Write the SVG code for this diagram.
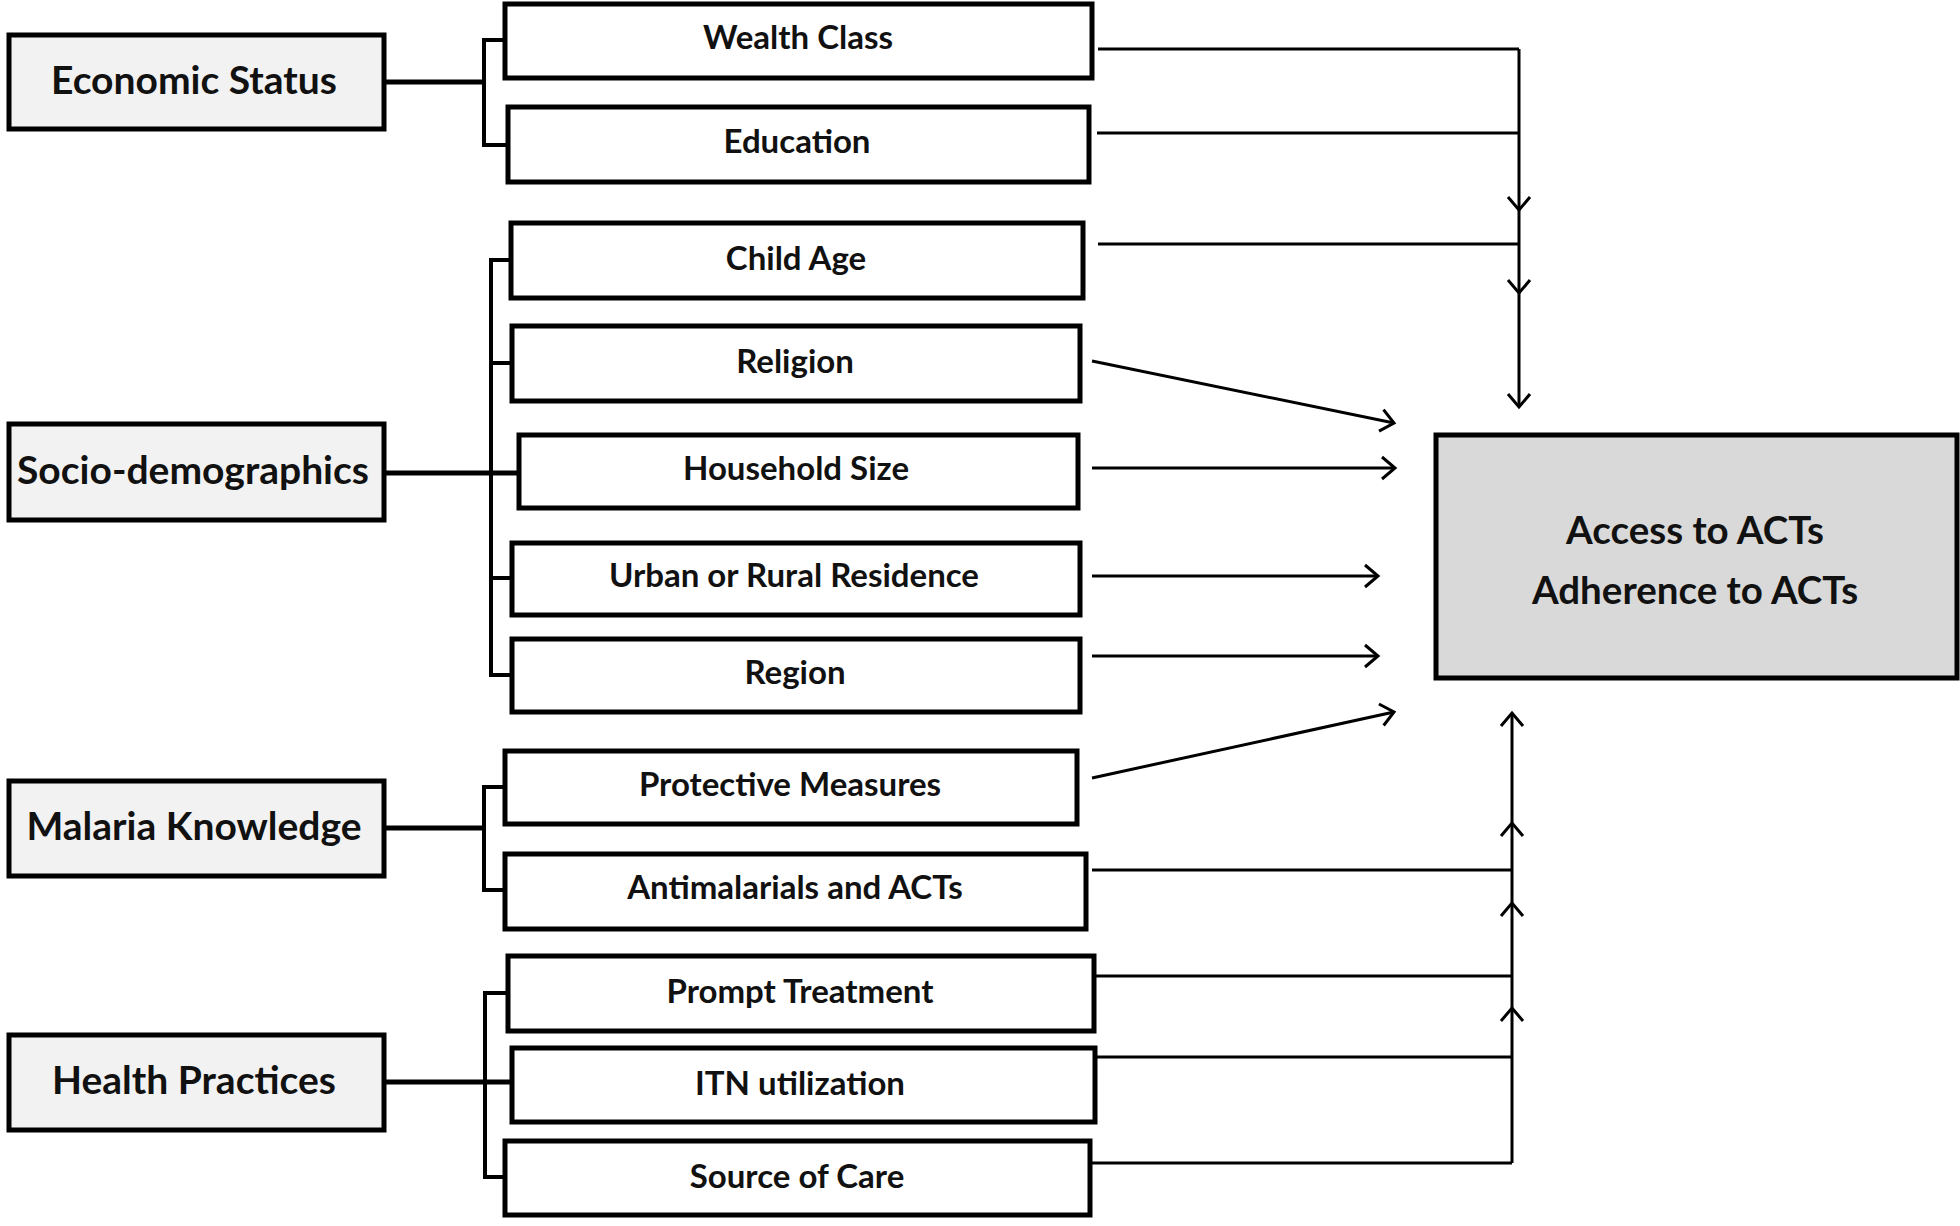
<svg xmlns="http://www.w3.org/2000/svg" width="1960" height="1226" viewBox="0 0 1960 1226">
<style>
  .cat rect { fill: #f2f2f2; stroke: #000; stroke-width: 5; }
  .sub rect { fill: #ffffff; stroke: #000; stroke-width: 5; }
  .out rect { fill: #d9d9d9; stroke: #000; stroke-width: 5; }
  text { font-family: Lato, "Open Sans", "Liberation Sans", sans-serif; font-weight: bold; fill: #111; text-anchor: middle; }
  .cat text { font-size: 39px; }
  .sub text { font-size: 33px; }
  .out text { font-size: 38.5px; }
  .br { fill: none; stroke: #000; stroke-width: 4; }
  .main { fill: none; stroke: #000; stroke-width: 5; }
  .ln { fill: none; stroke: #000; stroke-width: 3; }
  .ar { fill: none; stroke: #000; stroke-width: 3; marker-end: url(#arr); }
</style>
<defs>
  <marker id="arr" viewBox="0 0 18 28" refX="15" refY="14" markerWidth="18" markerHeight="28" markerUnits="userSpaceOnUse" orient="auto">
    <path d="M2,3 L15,14 L2,25" fill="none" stroke="#000" stroke-width="3"/>
  </marker>
</defs>
<rect width="1960" height="1226" fill="#fff"/>

<g id="connectors">
  <!-- Economic bracket -->
  <path class="main" d="M384,82 H484"/>
  <path class="br" d="M505,40 H484 V145 H508"/>
  <!-- Socio bracket -->
  <path class="main" d="M384,473 H519"/>
  <path class="br" d="M511,260 H491 V675 H512 M491,363 H512 M491,578 H512"/>
  <!-- Malaria bracket -->
  <path class="main" d="M384,828 H484"/>
  <path class="br" d="M505,787 H484 V890 H505"/>
  <!-- Health bracket -->
  <path class="main" d="M384,1082 H512"/>
  <path class="br" d="M508,993 H485 V1177 H505"/>

  <!-- top group -->
  <path class="ln" d="M1098,49 H1519 M1097,133 H1519 M1098,244 H1519"/>
  <path class="ar" d="M1519,49 V210"/>
  <path class="ar" d="M1519,210 V293"/>
  <path class="ar" d="M1519,293 V407"/>

  <!-- direct arrows -->
  <path class="ar" d="M1092,361 L1394,423"/>
  <path class="ar" d="M1092,468 H1395"/>
  <path class="ar" d="M1092,576 H1378"/>
  <path class="ar" d="M1092,656 H1378"/>
  <path class="ar" d="M1092,778 L1394,712"/>

  <!-- bottom group -->
  <path class="ln" d="M1092,870 H1512 M1094,976 H1512 M1097,1057 H1512 M1092,1163 H1512"/>
  <path class="ar" d="M1512,1163 V1008"/>
  <path class="ar" d="M1512,1008 V903"/>
  <path class="ar" d="M1512,903 V823"/>
  <path class="ar" d="M1512,823 V713"/>
</g>

<g id="economic-status" class="cat"><rect x="9" y="35" width="375" height="94"/><text x="194" y="94">Economic Status</text></g>
<g id="socio-demographics" class="cat"><rect x="9" y="424" width="375" height="96"/><text x="193" y="484">Socio-demographics</text></g>
<g id="malaria-knowledge" class="cat"><rect x="9" y="781" width="375" height="95"/><text x="194" y="840">Malaria Knowledge</text></g>
<g id="health-practices" class="cat"><rect x="9" y="1035" width="375" height="95"/><text x="194" y="1094">Health Practices</text></g>

<g id="wealth-class" class="sub"><rect x="505" y="4" width="587" height="74"/><text x="798" y="49">Wealth Class</text></g>
<g id="education" class="sub"><rect x="508" y="107" width="581" height="75"/><text x="797" y="153">Education</text></g>
<g id="child-age" class="sub"><rect x="511" y="223" width="572" height="75"/><text x="796" y="270">Child Age</text></g>
<g id="religion" class="sub"><rect x="512" y="326" width="568" height="75"/><text x="795" y="373">Religion</text></g>
<g id="household-size" class="sub"><rect x="519" y="435" width="559" height="73"/><text x="796" y="480">Household Size</text></g>
<g id="urban-rural" class="sub"><rect x="512" y="543" width="568" height="72"/><text x="794" y="587">Urban or Rural Residence</text></g>
<g id="region" class="sub"><rect x="512" y="639" width="568" height="73"/><text x="795" y="684">Region</text></g>
<g id="protective-measures" class="sub"><rect x="505" y="751" width="572" height="73"/><text x="790" y="796">Protective Measures</text></g>
<g id="antimalarials" class="sub"><rect x="505" y="854" width="581" height="75"/><text x="795" y="899">Antimalarials and ACTs</text></g>
<g id="prompt-treatment" class="sub"><rect x="508" y="956" width="586" height="75"/><text x="800" y="1003">Prompt Treatment</text></g>
<g id="itn-utilization" class="sub"><rect x="512" y="1048" width="583" height="74"/><text x="800" y="1095">ITN utilization</text></g>
<g id="source-of-care" class="sub"><rect x="505" y="1141" width="585" height="74"/><text x="797" y="1188">Source of Care</text></g>

<g id="outcome" class="out"><rect x="1436" y="435" width="521" height="243"/><text x="1695" y="544">Access to ACTs</text><text x="1695" y="604">Adherence to ACTs</text></g>
</svg>
